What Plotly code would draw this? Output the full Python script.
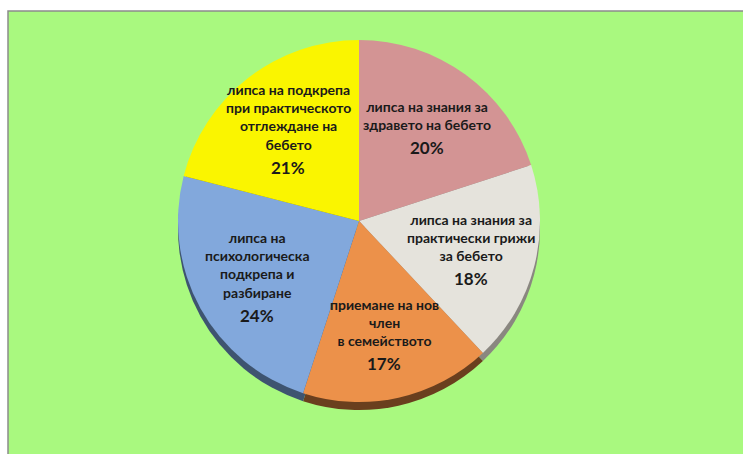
import numpy as np
import plotly.graph_objects as go

labels = [
    "липса на знания за<br>здравето на бебето",
    "липса на знания за<br>практически грижи<br>за бебето",
    "приемане на нов<br>член<br>в семейството",
    "липса на<br>психологическа<br>подкрепа и<br>разбиране",
    "липса на подкрепа<br>при практическото<br>отглеждане на<br>бебето",
]
values = [20, 18, 17, 24, 21]
colors = ["#D39494", "#E5E3DC", "#EC914A", "#82A8DC", "#FAF500"]
shadow_colors = ["#7A4E4E", "#8A8780", "#6A3F1E", "#3E5470", "#8A8600"]

W, H = 743, 454
ml, mt = 8, 11
pw, ph = W - ml, H - mt
cx, cy, r = 359, 221, 181
dx = [(cx - r - ml) / pw, (cx + r - ml) / pw]
dy = [(H - cy - r) / ph, (H - cy + r) / ph]
off = 8 / ph

fig = go.Figure()
fig.add_trace(go.Pie(
    labels=labels, values=values, sort=False, direction="clockwise", rotation=0,
    marker=dict(colors=shadow_colors, line=dict(width=0)),
    textinfo="none", hoverinfo="skip", showlegend=False,
    domain=dict(x=dx, y=[dy[0] - off, dy[1] - off]),
))
fig.add_trace(go.Pie(
    labels=labels, values=values, sort=False, direction="clockwise", rotation=0,
    marker=dict(colors=colors, line=dict(width=0)),
    textinfo="none", showlegend=False,
    domain=dict(x=dx, y=dy),
))

# label positions derived from the slice mid-angles
vals = np.array(values, dtype=float)
cum = np.cumsum(vals) - vals / 2
ang = np.deg2rad(cum / vals.sum() * 360)
rf = 0.64
fs, pfs = 14, 17
lh = 1.3 * fs
annotations = []
for lab, v, a in zip(labels, values, ang):
    px = cx + rf * r * np.sin(a)
    py = cy - rf * r * np.cos(a)
    lab_h = (lab.count("<br>") + 1) * lh
    pct_h = pfs * 1.25
    shift = (pct_h - lab_h) / 2
    base = dict(x=(px - ml) / pw, y=(H - py) / ph, xref="paper", yref="paper",
                showarrow=False, align="center", xanchor="center")
    annotations.append(dict(
        base, text=f"<b>{lab}</b>", yanchor="bottom", yshift=shift,
        font=dict(family="Lato", size=fs, color="#1a1a1a"),
    ))
    annotations.append(dict(
        base, text=f"<b>{v}%</b>", yanchor="top", yshift=shift,
        font=dict(family="Lato", size=pfs, color="#1a1a1a"),
    ))

fig.update_layout(
    width=W, height=H,
    margin=dict(l=ml, t=mt, r=0, b=0),
    paper_bgcolor="white",
    plot_bgcolor="rgba(0,0,0,0)",
    annotations=annotations,
    shapes=[dict(type="rect", xref="paper", yref="paper", x0=0, x1=1.02, y0=-0.02, y1=1,
                 fillcolor="#A9F97F", line=dict(color="#8C8C8C", width=1.5), layer="below")],
)
fig.write_html("out.html", config={"displayModeBar": False},
               post_script="document.body.style.margin='0';")
